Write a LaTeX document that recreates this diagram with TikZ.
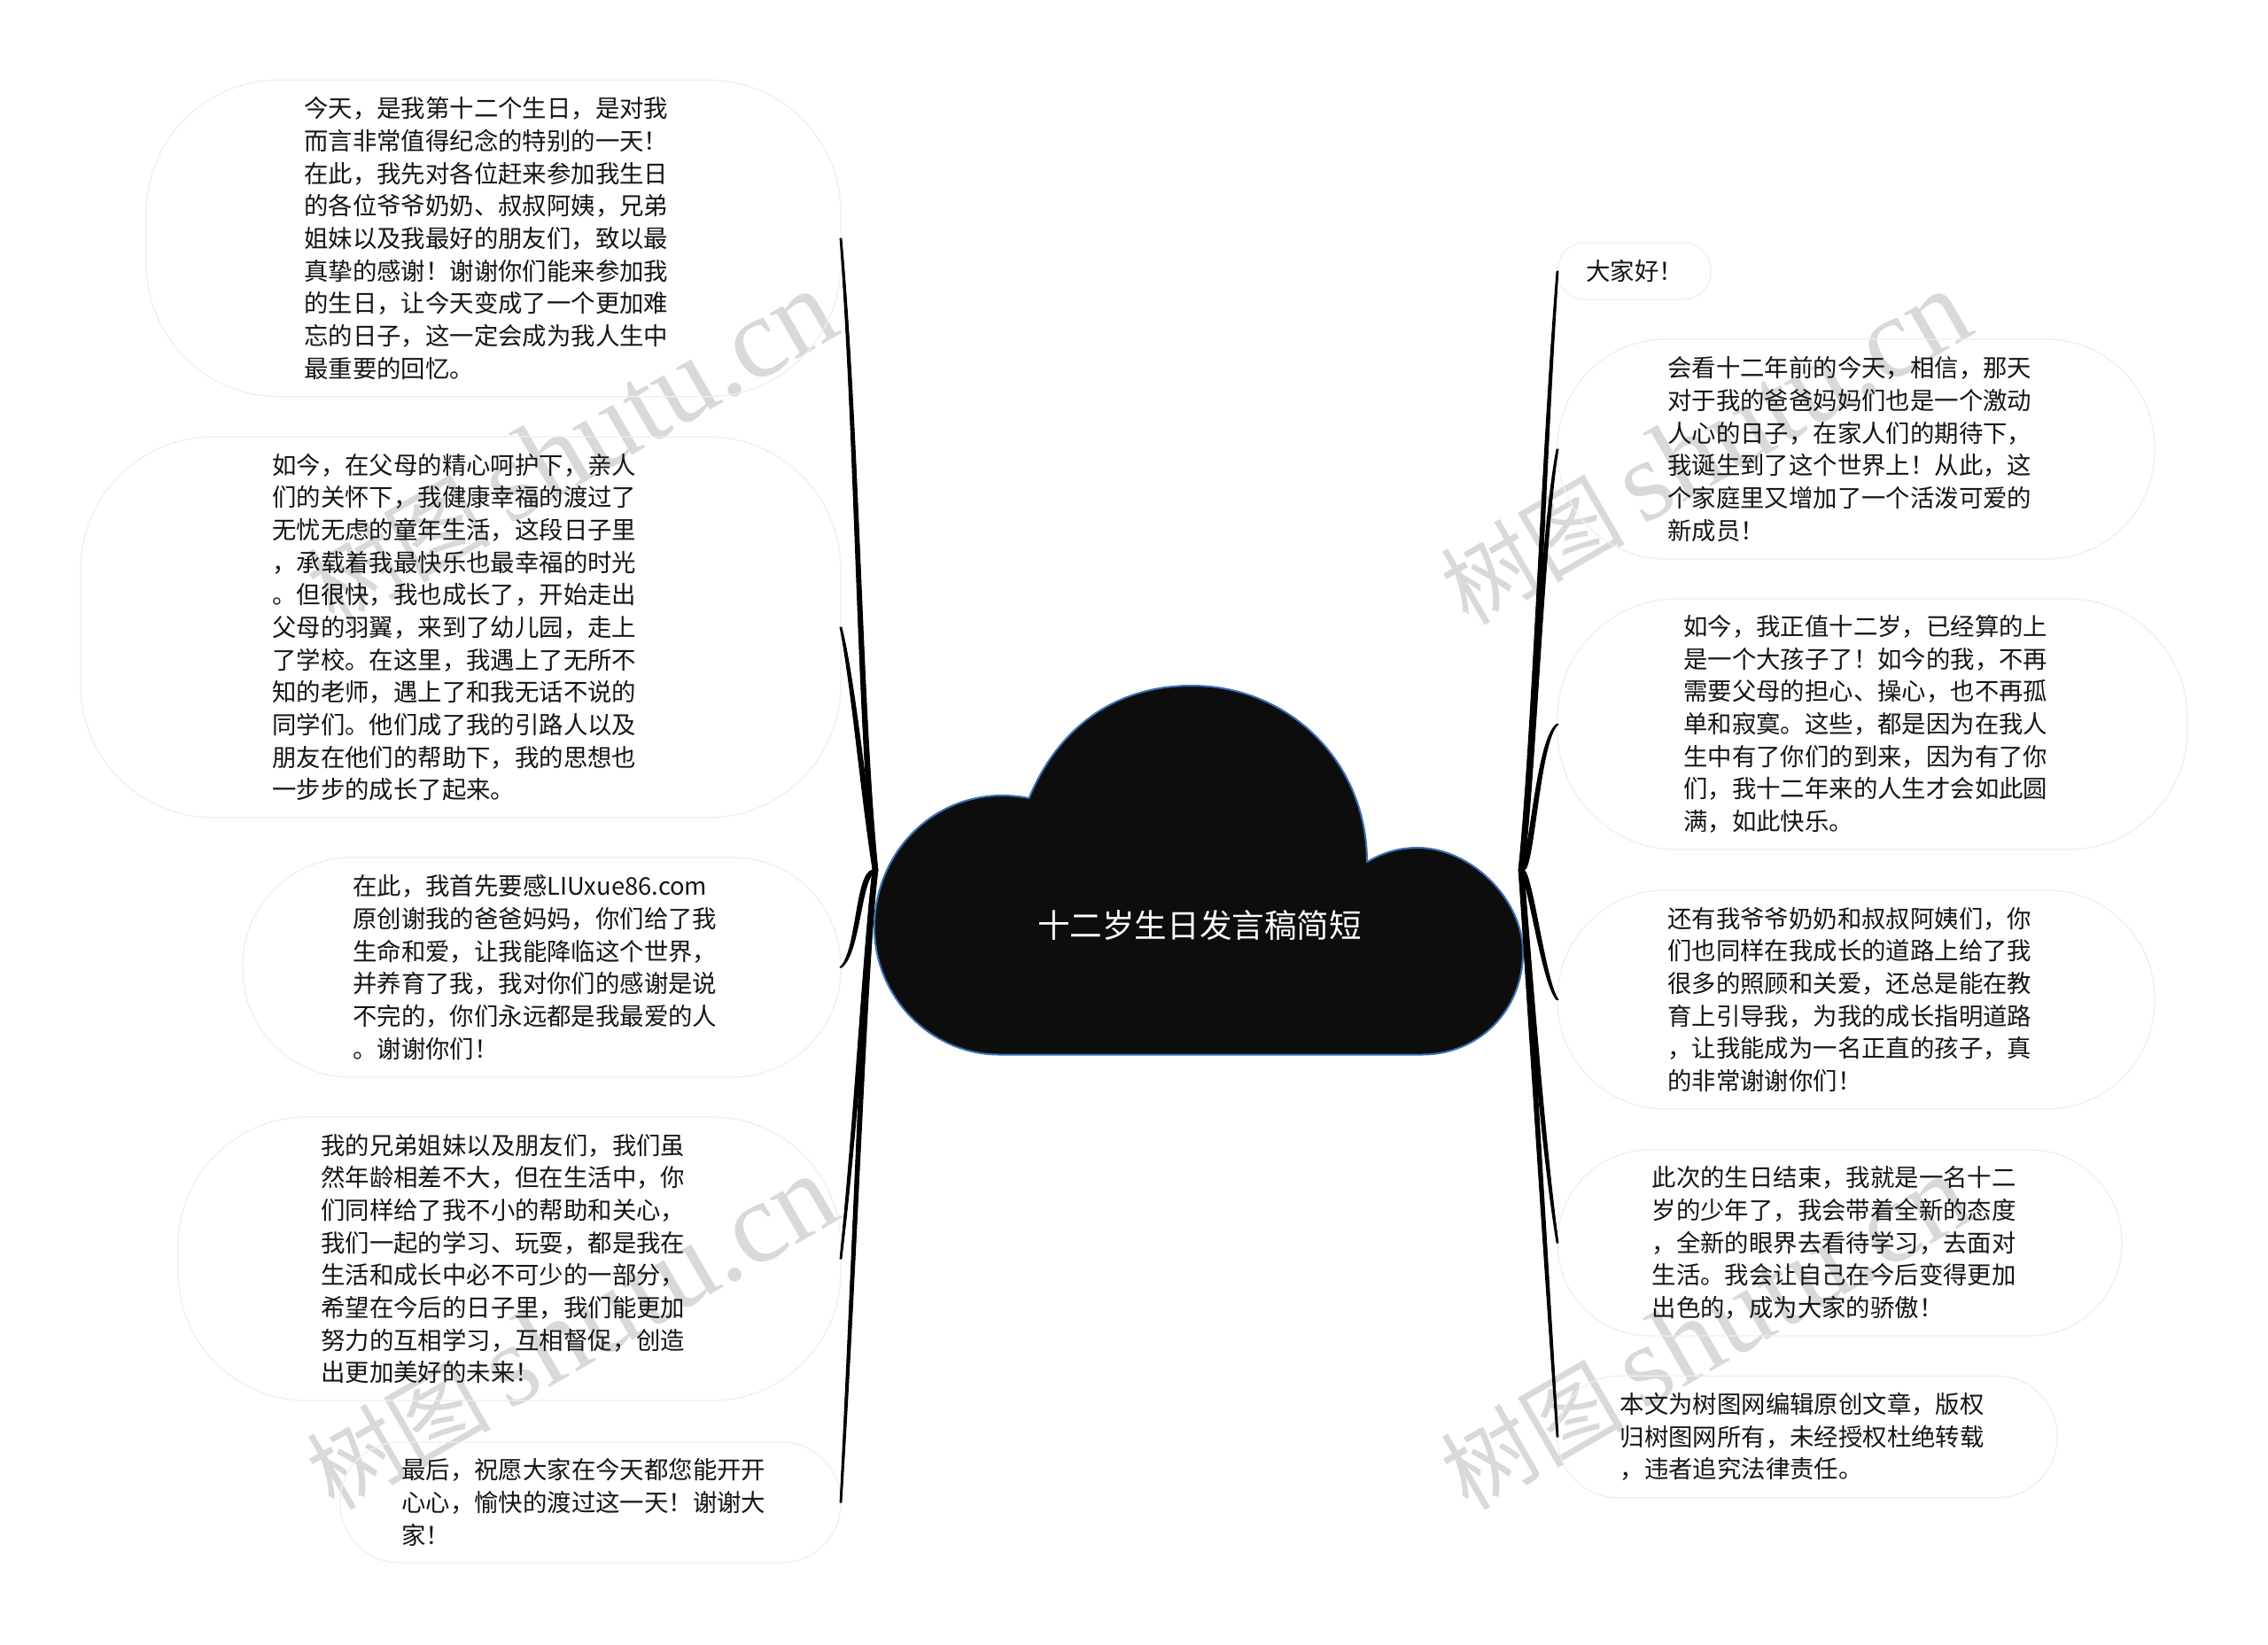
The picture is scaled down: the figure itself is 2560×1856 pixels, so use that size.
\documentclass[tikz,border=0pt]{standalone}
\usepackage{fontspec}
\usetikzlibrary{calc}
\setmainfont{Noto Sans CJK SC}
\newfontfamily\wmcjk{Noto Sans CJK SC}
\newfontfamily\wmlat{Liberation Serif}
\definecolor{bubbleline}{HTML}{EEF0F1}
\definecolor{cloudfill}{HTML}{0D0D0D}
\definecolor{cloudline}{HTML}{3A6FB5}
\definecolor{wmgray}{HTML}{D9D9D9}
\definecolor{bodytext}{HTML}{151515}
\tikzset{
  bubble/.style={draw=bubbleline,line width=1.3pt,inner sep=0pt,outer sep=0pt},
  bodytxt/.style={anchor=west,align=left,inner sep=0pt,yshift=0pt,text=bodytext,font=\fontsize{27.4}{36.66}\selectfont},
  roottxt/.style={inner sep=0pt,text=white,font=\fontsize{36.6}{44}\selectfont},
  wmark/.style={anchor=base west,rotate=30,inner sep=0pt,text=wmgray},
  conn/.style={fill=black,draw=black,line width=1pt,line join=round}
}
\newcommand{\wmtext}{{\fontsize{104}{110}\selectfont\wmcjk 树图}\hspace*{20pt}{\fontsize{130}{130}\selectfont\wmlat shutu.cn}}
\newcommand{\taperline}[4]{%
  \path[conn] ($(#1)+(-2.8,0)$) .. controls ($(#2)+(-2.8,0)$) and ($(#3)+(-2.4,0)$) .. ($(#4)+(-0.9,0)$)
    -- ($(#4)+(0.9,0)$) .. controls ($(#3)+(2.4,0)$) and ($(#2)+(2.8,0)$) .. ($(#1)+(2.8,0)$) -- cycle;}
\begin{document}
\begin{tikzpicture}[x=1pt,y=-1pt]
\useasboundingbox (0,0) rectangle (2560,1856);
\fill[white] (0,0) rectangle (2560,1856);
% watermarks
\node[wmark] (wm1) at (377,708) {\wmtext};
\node[wmark] (wm2) at (1657,708) {\wmtext};
\node[wmark] (wm3) at (377,1707) {\wmtext};
\node[wmark] (wm4) at (1657,1707) {\wmtext};
% bubbles
\node[bubble,minimum width=784pt,minimum height=357.5pt,rounded corners=150pt] (L1) at (557,269) {};
\node[bubble,minimum width=858pt,minimum height=430pt,rounded corners=150pt] (L2) at (520,708) {};
\node[bubble,minimum width=675pt,minimum height=248pt,rounded corners=122pt] (L3) at (611.5,1092) {};
\node[bubble,minimum width=748pt,minimum height=320pt,rounded corners=145pt] (L4) at (575,1421) {};
\node[bubble,minimum width=565pt,minimum height=136pt,rounded corners=67pt] (L5) at (666.5,1696) {};
\node[bubble,minimum width=173pt,minimum height=64pt,rounded corners=31pt] (R1) at (1844.5,306) {};
\node[bubble,minimum width=674pt,minimum height=248pt,rounded corners=122pt] (R2) at (2095,507) {};
\node[bubble,minimum width=711pt,minimum height=283pt,rounded corners=135pt] (R3) at (2113.5,817.5) {};
\node[bubble,minimum width=674pt,minimum height=247pt,rounded corners=122pt] (R4) at (2095,1128.5) {};
\node[bubble,minimum width=637pt,minimum height=210pt,rounded corners=104pt] (R5) at (2076.5,1403) {};
\node[bubble,minimum width=564pt,minimum height=137.5pt,rounded corners=68pt] (R6) at (2040,1622) {};
% cloud
\path[fill=cloudfill,draw=cloudline,line width=2pt,line join=round]
  (1128,1190.5) -- (1605,1190.5)
  .. controls (1670,1190.5) and (1719,1140) .. (1719,1075)
  .. controls (1719,1015) and (1660,957) .. (1600,957)
  .. controls (1578,957) and (1560,963) .. (1543,973)
  .. controls (1543,860) and (1455,774) .. (1345,774)
  .. controls (1260,774) and (1195,820) .. (1161.5,901)
  .. controls (1151,899) and (1141,898) .. (1131,898)
  .. controls (1050,898) and (987,965) .. (987,1047)
  .. controls (987,1125) and (1050,1190.5) .. (1128,1190.5) -- cycle;
\node[roottxt] (root) at (1354,1045) {十二岁生日发言稿简短};
\coordinate (rootL) at (988,982);
\coordinate (rootR) at (1717,982);
% connectors
\taperline{rootL}{970,800}{968,500}{L1.east}
\taperline{rootL}{975,900}{963,770}{L2.east}
\taperline{rootL}{968,985}{970,1075}{L3.east}
\taperline{rootL}{978,1060}{968,1250}{L4.east}
\taperline{rootL}{976,1080}{966,1400}{L5.east}
\taperline{rootR}{1733,820}{1742,520}{R1.west}
\taperline{rootR}{1730,880}{1741,600}{R2.west}
\taperline{rootR}{1729,985}{1735,835}{R3.west}
\taperline{rootR}{1727,985}{1742,1110}{R4.west}
\taperline{rootR}{1725,1080}{1741,1290}{R5.west}
\taperline{rootR}{1725,1100}{1740,1350}{R6.west}
% texts
\node[bodytxt] (tL1) at (343,269) {今天，是我第十二个生日，是对我\\而言非常值得纪念的特别的一天！\\在此，我先对各位赶来参加我生日\\的各位爷爷奶奶、叔叔阿姨，兄弟\\姐妹以及我最好的朋友们，致以最\\真挚的感谢！谢谢你们能来参加我\\的生日，让今天变成了一个更加难\\忘的日子，这一定会成为我人生中\\最重要的回忆。};
\node[bodytxt] (tL2) at (307,708) {如今，在父母的精心呵护下，亲人\\们的关怀下，我健康幸福的渡过了\\无忧无虑的童年生活，这段日子里\\，承载着我最快乐也最幸福的时光\\。但很快，我也成长了，开始走出\\父母的羽翼，来到了幼儿园，走上\\了学校。在这里，我遇上了无所不\\知的老师，遇上了和我无话不说的\\同学们。他们成了我的引路人以及\\朋友在他们的帮助下，我的思想也\\一步步的成长了起来。};
\node[bodytxt] (tL3) at (398,1092) {在此，我首先要感LIUxue86.com\\原创谢我的爸爸妈妈，你们给了我\\生命和爱，让我能降临这个世界，\\并养育了我，我对你们的感谢是说\\不完的，你们永远都是我最爱的人\\。谢谢你们！};
\node[bodytxt] (tL4) at (362,1421) {我的兄弟姐妹以及朋友们，我们虽\\然年龄相差不大，但在生活中，你\\们同样给了我不小的帮助和关心，\\我们一起的学习、玩耍，都是我在\\生活和成长中必不可少的一部分，\\希望在今后的日子里，我们能更加\\努力的互相学习，互相督促，创造\\出更加美好的未来！};
\node[bodytxt] (tL5) at (453,1696) {最后，祝愿大家在今天都您能开开\\心心，愉快的渡过这一天！谢谢大\\家！};
\node[bodytxt] (tR1) at (1790,306) {大家好！};
\node[bodytxt] (tR2) at (1882,507) {会看十二年前的今天，相信，那天\\对于我的爸爸妈妈们也是一个激动\\人心的日子，在家人们的期待下，\\我诞生到了这个世界上！从此，这\\个家庭里又增加了一个活泼可爱的\\新成员！};
\node[bodytxt] (tR3) at (1900,817.5) {如今，我正值十二岁，已经算的上\\是一个大孩子了！如今的我，不再\\需要父母的担心、操心，也不再孤\\单和寂寞。这些，都是因为在我人\\生中有了你们的到来，因为有了你\\们，我十二年来的人生才会如此圆\\满，如此快乐。};
\node[bodytxt] (tR4) at (1882,1128.5) {还有我爷爷奶奶和叔叔阿姨们，你\\们也同样在我成长的道路上给了我\\很多的照顾和关爱，还总是能在教\\育上引导我，为我的成长指明道路\\，让我能成为一名正直的孩子，真\\的非常谢谢你们！};
\node[bodytxt] (tR5) at (1864.5,1403) {此次的生日结束，我就是一名十二\\岁的少年了，我会带着全新的态度\\，全新的眼界去看待学习，去面对\\生活。我会让自己在今后变得更加\\出色的，成为大家的骄傲！};
\node[bodytxt] (tR6) at (1828.5,1622) {本文为树图网编辑原创文章，版权\\归树图网所有，未经授权杜绝转载\\，违者追究法律责任。};
\end{tikzpicture}
\end{document}
